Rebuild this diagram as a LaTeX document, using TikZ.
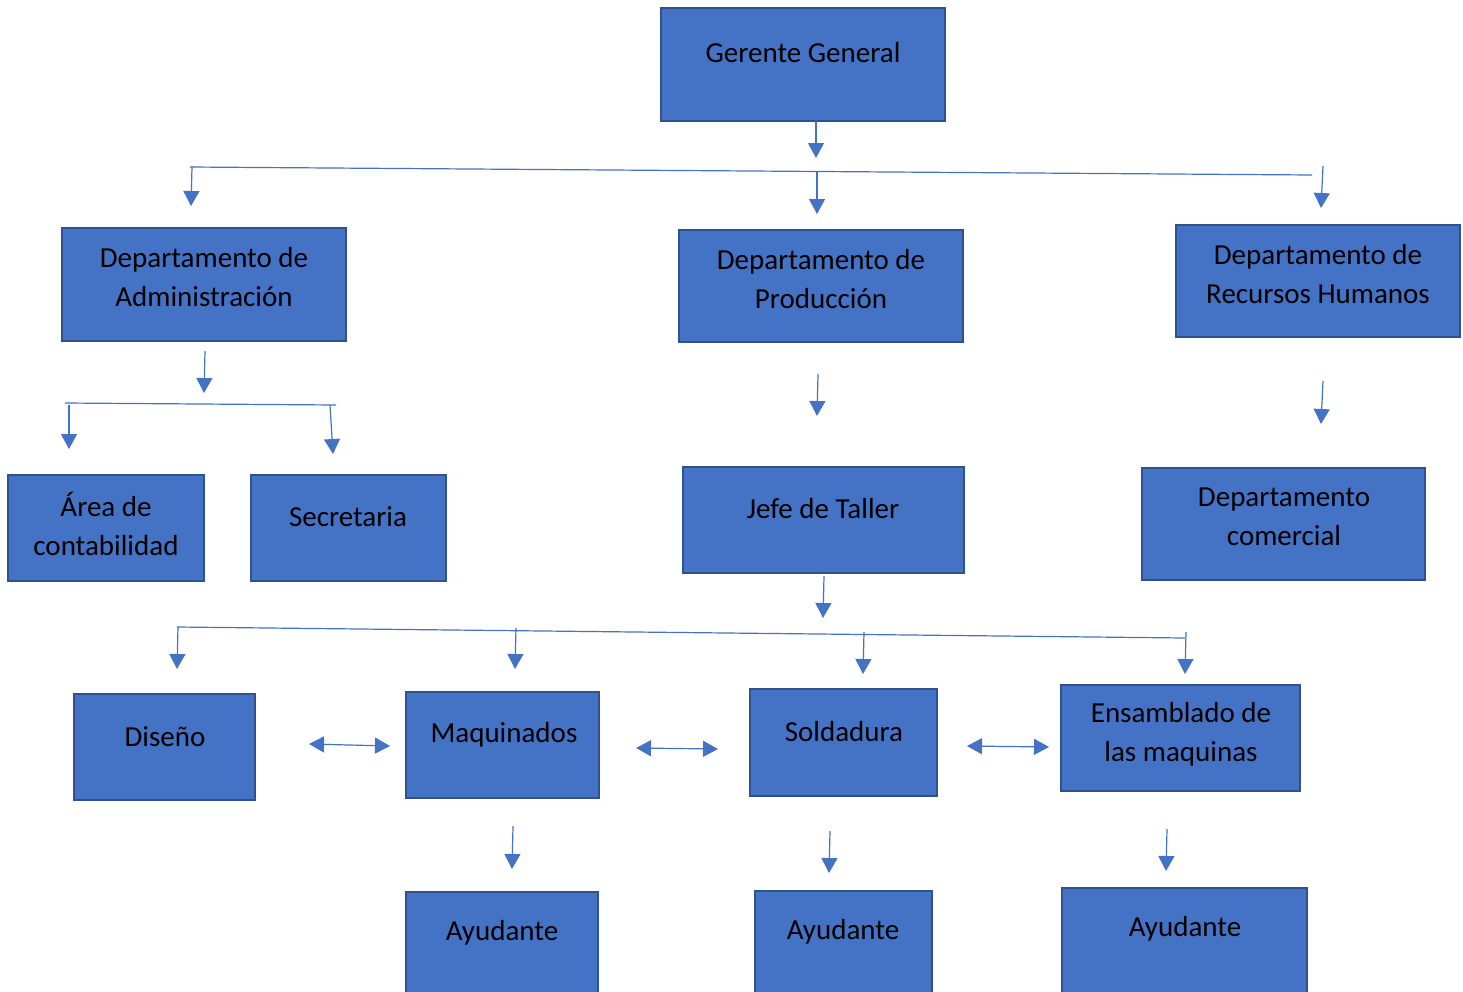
\documentclass[tikz,border=0pt]{standalone}
\usepackage{fontspec}
\setmainfont{Carlito}
\usetikzlibrary{arrows.meta}
\definecolor{boxfill}{HTML}{4472C4}
\definecolor{boxline}{HTML}{2F528F}
\definecolor{conn}{HTML}{4472C4}
\tikzset{
  box/.style={draw=boxline, line width=2pt, fill=boxfill, inner sep=0pt},
  txt/.style={align=center, font=\fontsize{29}{39}\selectfont, text=black, inner sep=0pt},
  conline/.style={draw=conn, line width=1.2pt},
  arr/.style={conline, -{Triangle[width=16pt,length=15pt]}},
  darr/.style={conline, {Triangle[width=16pt,length=15pt]}-{Triangle[width=16pt,length=15pt]}},
}
\newcommand{\orgbox}[5]{\node[box, minimum width=#3-#2, minimum height=#5-#4] (#1) at ({(#2+#3)/2},{(#4+#5)/2}) {};}
\begin{document}
\begin{tikzpicture}[x=1pt,y=-1pt]
\useasboundingbox (0,0) rectangle (1463,991);
\clip (0,0) rectangle (1463,991);
\fill[white] (0,0) rectangle (1463,991);
% boxes
\orgbox{gg}{661}{945}{8}{121}
\orgbox{adm}{62}{346}{228}{341}
\orgbox{prod}{679}{963}{230}{342}
\orgbox{rrhh}{1176}{1460}{225}{337}
\orgbox{cont}{8}{204}{475}{581}
\orgbox{secr}{251}{446}{475}{581}
\orgbox{jefe}{683}{964}{467}{573}
\orgbox{com}{1142}{1425}{468}{580}
\orgbox{dis}{74}{255}{694}{800}
\orgbox{maq}{406}{599}{692}{798}
\orgbox{sold}{750}{937}{689}{796}
\orgbox{ens}{1061}{1300}{685}{791}
\orgbox{ay1}{406}{598}{892}{1010}
\orgbox{ay2}{755}{932}{891}{1010}
\orgbox{ay3}{1062}{1307}{888}{1010}
% texts
\node[txt] (tgg) at (803,53) {Gerente General};
\node[txt] (tadm) at (204,277) {Departamento de\\Administración};
\node[txt] (tprod) at (821,279) {Departamento de\\Producción};
\node[txt] (trrhh) at (1318,274) {Departamento de\\Recursos Humanos};
\node[txt] (tcont) at (106,524) {Área de\\contabilidad};
\node[txt] (tsecr) at (348,517) {Secretaria};
\node[txt] (tjefe) at (823,509) {Jefe de Taller};
\node[txt] (tcom) at (1284,517) {Departamento\\comercial};
\node[txt] (tdis) at (165,737) {Diseño};
\node[txt] (tmaq) at (504,735) {Maquinados};
\node[txt] (tsold) at (844,732) {Soldadura};
\node[txt] (tens) at (1181,734) {Ensamblado de\\las maquinas};
\node[txt] (tay1) at (502,933) {Ayudante};
\node[txt] (tay2) at (843,932) {Ayudante};
\node[txt] (tay3) at (1185,929) {Ayudante};
% connector coordinates
\coordinate (a1s) at (816,121); \coordinate (a1e) at (816,158);
\coordinate (h1l) at (190,167); \coordinate (h1r) at (1312,175);
\coordinate (a2s) at (192,167); \coordinate (a2e) at (191,206);
\coordinate (a3s) at (817,172); \coordinate (a3e) at (817,214);
\coordinate (a4s) at (1323,166); \coordinate (a4e) at (1321,208);
\coordinate (a5s) at (205,351); \coordinate (a5e) at (204,393);
\coordinate (h2l) at (65,403); \coordinate (h2r) at (336,405);
\coordinate (a6s) at (69,405); \coordinate (a6e) at (69,449);
\coordinate (a7s) at (330,405); \coordinate (a7e) at (333,454);
\coordinate (a8s) at (818,374); \coordinate (a8e) at (817,416);
\coordinate (a9s) at (1323,381); \coordinate (a9e) at (1321,424);
\coordinate (a10s) at (824,576); \coordinate (a10e) at (823,618);
\coordinate (h3l) at (177,627); \coordinate (h3r) at (1185,638);
\coordinate (a11s) at (178,627); \coordinate (a11e) at (177,669);
\coordinate (a12s) at (516,628); \coordinate (a12e) at (515,669);
\coordinate (a13s) at (864,632); \coordinate (a13e) at (863,674);
\coordinate (a14s) at (1186,632); \coordinate (a14e) at (1185,674);
\coordinate (d1l) at (309,744); \coordinate (d1r) at (390,746);
\coordinate (d2l) at (636,748); \coordinate (d2r) at (718,749);
\coordinate (d3l) at (967,746); \coordinate (d3r) at (1049,747);
\coordinate (a15s) at (513,826); \coordinate (a15e) at (512,869);
\coordinate (a16s) at (830,831); \coordinate (a16e) at (829,873);
\coordinate (a17s) at (1167,829); \coordinate (a17e) at (1166,871);
% connectors
\draw[conline] (h1l) -- (h1r);
\draw[conline] (h2l) -- (h2r);
\draw[conline] (h3l) -- (h3r);
\foreach \k in {1,...,17} {\draw[arr] (a\k s) -- (a\k e);}
\draw[darr] (d1l) -- (d1r);
\draw[darr] (d2l) -- (d2r);
\draw[darr] (d3l) -- (d3r);
\end{tikzpicture}
\end{document}
